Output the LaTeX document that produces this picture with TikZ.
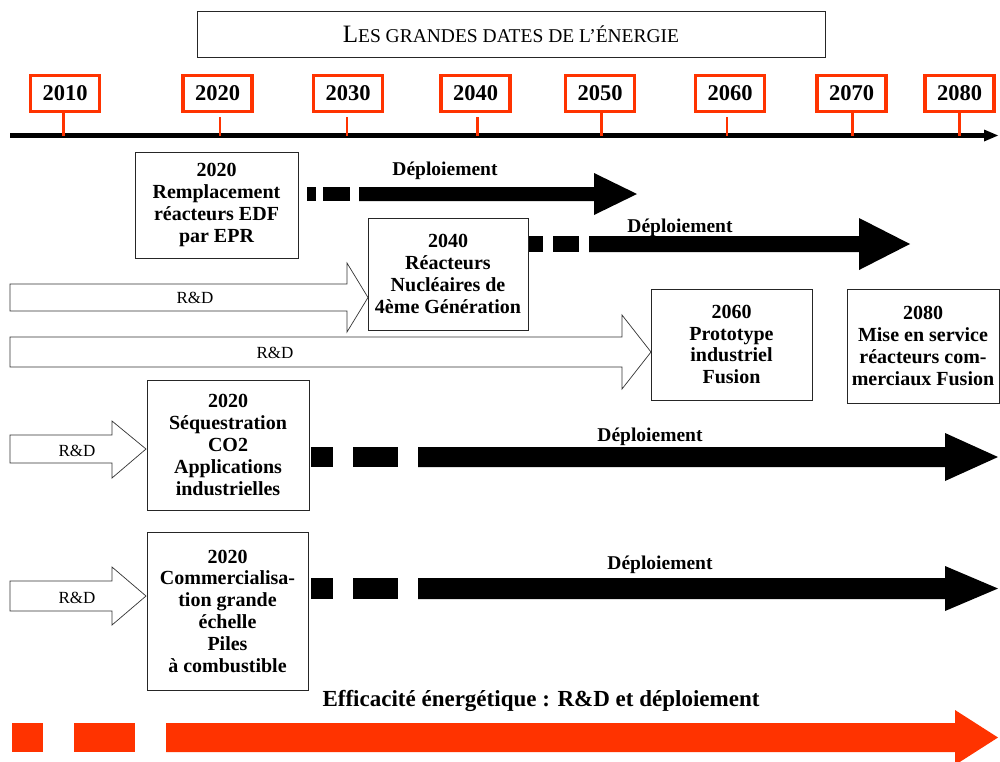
\documentclass[tikz,border=0pt]{standalone}
\usepackage{fontspec}
\setmainfont{Liberation Serif}
\definecolor{ored}{RGB}{255,51,0}
\newcommand\fsz[2]{\fontsize{#1}{#2}\selectfont}
\begin{document}
\begin{tikzpicture}[x=1pt,y=-1pt,
  yearbox/.style={draw=ored,line width=3.2pt,minimum width=69pt,minimum height=36pt,inner sep=0pt,font=\fsz{22.5}{22.5}\bfseries},
  evbox/.style={draw=black!85,line width=0.9pt,inner sep=0pt,align=center,font=\fsz{20}{21.8}\bfseries},
  titlebox/.style={draw=black!85,line width=0.9pt,inner sep=0pt,minimum width=628pt,minimum height=46pt},
  tickthick/.style={draw=ored,line width=3pt},
  tickthin/.style={draw=ored,line width=2pt},
  hollow/.style={draw=black!80,line width=0.7pt,fill=white},
  rdlabel/.style={font=\fsz{17}{17},inner sep=0pt},
  deplabel/.style={font=\fsz{19.5}{19.5}\bfseries,inner sep=0pt},
  solidarrow/.style={fill=black},
  redarrow/.style={fill=ored}]
\useasboundingbox (0,0) rectangle (1000,761);
\fill[white] (0,0) rectangle (1000,761);

% title
\node[titlebox] (title) at (511,34) {{\fsz{25}{25}L}{\fsz{19.5}{19.5}ES GRANDES DATES DE L’ÉNERGIE}};

% axis
\coordinate (axL) at (10,135.5);
\coordinate (axR) at (998,135.5);
\draw[line width=4.5pt] (axL) -- (986,135.5);
\fill (984,129.5) -- (axR) -- (984,141.5) -- cycle;

% year boxes
\node[yearbox] (y2010) at (65,93.5) {2010};
\node[yearbox] (y2020) at (217.5,93.5) {2020};
\node[yearbox] (y2030) at (348,93.5) {2030};
\node[yearbox] (y2040) at (475.5,93.5) {2040};
\node[yearbox] (y2050) at (600,93.5) {2050};
\node[yearbox] (y2060) at (730,93.5) {2060};
\node[yearbox] (y2070) at (851.5,93.5) {2070};
\node[yearbox] (y2080) at (959.5,93.5) {2080};

% ticks
\draw[tickthick] (63,112) -- (63,135.5);
\draw[tickthin] (219.5,117) -- (219.5,135.5);
\draw[tickthin] (346.5,117) -- (346.5,135.5);
\draw[tickthick] (477,117) -- (477,135.5);
\draw[tickthick] (601.5,112) -- (601.5,135.5);
\draw[tickthin] (726.5,117) -- (726.5,135.5);
\draw[tickthick] (852,112) -- (852,135.5);
\draw[tickthick] (959,112) -- (959,135.5);

% hollow R&D arrows (drawn before boxes)
\draw[hollow] (10,284) -- (347,284) -- (347,263) -- (368,297.5) -- (347,332) -- (347,311) -- (10,311) -- cycle;
\node[rdlabel] (rd1) at (195,298) {R\&D};
\draw[hollow] (10,337) -- (622,337) -- (622,315) -- (651,352) -- (622,389) -- (622,367) -- (10,367) -- cycle;
\node[rdlabel] (rd2) at (275,353) {R\&D};
\draw[hollow] (10,435) -- (112,435) -- (112,421) -- (146,449) -- (112,478) -- (112,463) -- (10,463) -- cycle;
\node[rdlabel] (rd3) at (77,451) {R\&D};
\draw[hollow] (10,581) -- (112,581) -- (112,567) -- (146,596) -- (112,625) -- (112,611) -- (10,611) -- cycle;
\node[rdlabel] (rd4) at (77,598) {R\&D};

% event boxes
\node[evbox,minimum width=163pt,minimum height=106pt] (bA) at (216.5,205) {2020\\Remplacement\\réacteurs EDF\\par EPR};
\node[evbox,minimum width=160pt,minimum height=112pt,fill=white] (bB) at (448,274) {2040\\Réacteurs\\Nucléaires de\\4ème Génération};
\node[evbox,minimum width=161pt,minimum height=111pt] (bC) at (731.5,344.5) {2060\\Prototype\\industriel\\Fusion};
\node[evbox,minimum width=152pt,minimum height=114pt] (bD) at (923,346) {2080\\Mise en service\\réacteurs com-\\merciaux Fusion};
\node[evbox,minimum width=162pt,minimum height=130pt] (bE) at (228,445) {2020\\Séquestration\\CO2\\Applications\\industrielles};
\node[evbox,minimum width=161pt,minimum height=158pt] (bF) at (227.5,611) {2020\\Commercialisa-\\tion grande\\échelle\\Piles\\à combustible};

% deployment arrow 1
\fill[solidarrow] (307,187) rectangle (316,201);
\fill[solidarrow] (323,187) rectangle (350,201);
\fill[solidarrow] (359,187) -- (594,187) -- (594,173) -- (637,194) -- (594,215) -- (594,201) -- (359,201) -- cycle;
\node[deplabel] (d1) at (445,171) {Déploiement};

% deployment arrow 2
\fill[solidarrow] (529,236) rectangle (543,252);
\fill[solidarrow] (553,236) rectangle (579,252);
\fill[solidarrow] (589,236) -- (859,236) -- (859,218) -- (910,244) -- (859,270) -- (859,252) -- (589,252) -- cycle;
\node[deplabel] (d2) at (680,228) {Déploiement};

% deployment arrow 3
\fill[solidarrow] (311,447) rectangle (333,467);
\fill[solidarrow] (353,447) rectangle (398,467);
\fill[solidarrow] (418,447) -- (945,447) -- (945,433) -- (998,457) -- (945,481) -- (945,467) -- (418,467) -- cycle;
\node[deplabel] (d3) at (650,437) {Déploiement};

% deployment arrow 4
\fill[solidarrow] (311,578) rectangle (333,599);
\fill[solidarrow] (353,578) rectangle (398,599);
\fill[solidarrow] (418,578) -- (945,578) -- (945,566) -- (998,588.5) -- (945,611) -- (945,599) -- (418,599) -- cycle;
\node[deplabel] (d4) at (660,565) {Déploiement};

% efficiency arrow
\node[font=\fsz{23}{23}\bfseries,inner sep=0pt] (eff) at (541,701) {Efficacité énergétique : R\&D et déploiement};
\fill[redarrow] (12,723) rectangle (43,752);
\fill[redarrow] (74,723) rectangle (135,752);
\fill[redarrow] (166,723) -- (955,723) -- (955,710) -- (998,737.5) -- (955,765) -- (955,752) -- (166,752) -- cycle;
\end{tikzpicture}
\end{document}
